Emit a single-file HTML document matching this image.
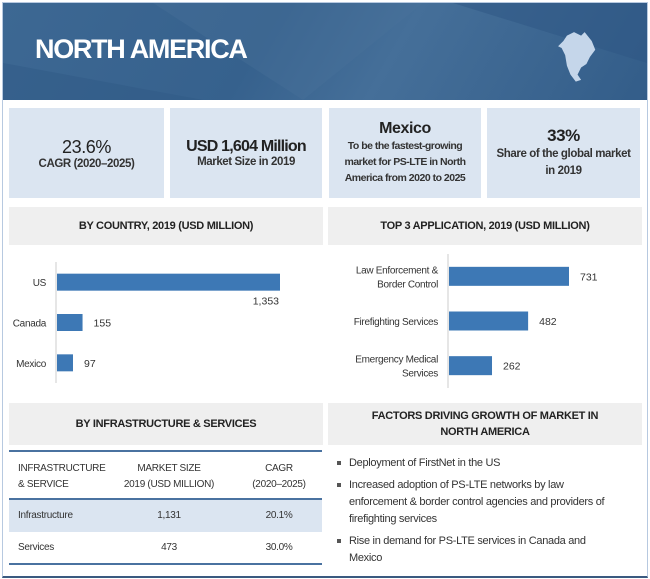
<!DOCTYPE html>
<html><head><meta charset="utf-8"><style>
*{margin:0;padding:0;box-sizing:border-box}
body{width:650px;height:579px;background:#fff;position:relative;overflow:hidden;font-family:"Liberation Sans Narrow","Liberation Sans",sans-serif;color:#333}
.abs{position:absolute}
.stat{background:#dbe5f1;text-align:center;display:flex;flex-direction:column;justify-content:center;top:108px;height:90px;letter-spacing:-0.4px}
.hd{background:#efefef;color:#222;font-weight:bold;font-size:11px;text-align:center;display:flex;align-items:center;justify-content:center;letter-spacing:-0.3px}
ul{list-style:none}
li{position:relative;padding-left:14px;font-size:11px;line-height:17px;margin-bottom:5px;color:#333;letter-spacing:-0.3px}
li:before{content:"";position:absolute;left:2px;top:6px;width:4px;height:4px;background:#555}
</style></head><body>
<div class="abs" style="left:2px;top:2px;width:646px;height:576px;border:1px solid #b7c9e0;border-bottom:2px solid #3a5a80"></div>
<div class="abs" style="left:3px;top:3px;width:644px;height:97px;background:linear-gradient(120deg,#3d6893 0%,#36618d 40%,#456f99 60%,#335d89 100%);overflow:hidden">
<svg width="644" height="97" class="abs" style="left:0;top:0"><polygon points="150,0 420,0 300,97" fill="#4a739c" opacity=".35"/><polygon points="450,0 644,60 644,0" fill="#2d5683" opacity=".5"/><polygon points="0,60 200,97 0,97" fill="#2f5a86" opacity=".5"/></svg>
<div class="abs" style="left:32px;top:31px;color:#fff;font-weight:bold;font-size:27px;letter-spacing:-1.3px">NORTH AMERICA</div>
<svg class="abs" style="left:555px;top:22px" width="40" height="62" viewBox="0 0 45 70"><path d="M10 12 L18 8 L26 12 L30 8 L38 18 L42 28 L36 36 L32 44 L26 48 L22 56 L26 62 L20 64 L14 56 L10 46 L8 34 L4 26 L0 24 L6 18 Z" fill="#c5d6ea"/></svg>
</div>
<div class="abs stat" style="left:9px;width:155px"><div style="font-size:18px;color:#222">23.6%</div><div style="font-size:11.5px;font-weight:bold;color:#333">CAGR (2020–2025)</div></div>
<div class="abs stat" style="left:170px;width:152px"><div style="font-size:16px;font-weight:bold;color:#222;letter-spacing:-0.8px">USD 1,604 Million</div><div style="font-size:11.5px;font-weight:bold;color:#333">Market Size in 2019</div></div>
<div class="abs stat" style="left:329px;width:152px"><div style="font-size:16px;font-weight:bold;color:#222">Mexico</div><div style="font-size:10.5px;font-weight:bold;color:#333;line-height:16px;letter-spacing:-0.5px">To be the fastest-growing<br>market for PS-LTE in North<br>America from 2020 to 2025</div></div>
<div class="abs stat" style="left:487px;width:153px"><div style="font-size:17px;font-weight:bold;color:#222">33%</div><div style="font-size:11.5px;font-weight:bold;color:#333;line-height:17px">Share of the global market<br>in 2019</div></div>

<div class="abs hd" style="left:9px;top:207px;width:314px;height:38px">BY COUNTRY,  2019 (USD MILLION)</div>
<div class="abs hd" style="left:328px;top:207px;width:314px;height:38px">TOP 3 APPLICATION,  2019 (USD MILLION)</div>
<svg class="abs" id="charts" style="left:0;top:0" width="650" height="579"></svg>

<div class="abs hd" style="left:9px;top:403px;width:314px;height:42px">BY INFRASTRUCTURE &amp; SERVICES</div>
<div class="abs hd" style="left:328px;top:403px;width:314px;height:42px;line-height:16px">FACTORS DRIVING GROWTH OF MARKET IN<br>NORTH AMERICA</div>

<div class="abs" style="left:9px;top:450px;width:313px;height:115px;border-top:2px solid #4a72a0;border-bottom:2px solid #4a72a0;font-size:10px;letter-spacing:-0.3px">
<div style="height:48px;border-bottom:2px solid #4a72a0;position:relative">
<div class="abs" style="left:9px;top:9px;line-height:16px">INFRASTRUCTURE<br>&amp; SERVICE</div>
<div class="abs" style="left:100px;width:120px;top:9px;text-align:center;line-height:16px">MARKET SIZE<br>2019 (USD MILLION)</div>
<div class="abs" style="left:230px;width:80px;top:9px;text-align:center;line-height:16px">CAGR<br>(2020–2025)</div></div>
<div style="height:32px;background:#dbe5f1;position:relative;line-height:32px">
<span class="abs" style="left:9px">Infrastructure</span><span class="abs" style="left:100px;width:120px;text-align:center">1,131</span><span class="abs" style="left:230px;width:80px;text-align:center">20.1%</span></div>
<div style="height:31px;position:relative;line-height:31px">
<span class="abs" style="left:9px">Services</span><span class="abs" style="left:100px;width:120px;text-align:center">473</span><span class="abs" style="left:230px;width:80px;text-align:center">30.0%</span></div>
</div>

<ul class="abs" style="left:335px;top:455px;width:272px">
<li>Deployment of FirstNet in the US</li>
<li>Increased adoption of PS-LTE networks by law enforcement &amp; border control agencies and providers of firefighting services</li>
<li>Rise in demand for PS-LTE services in Canada and Mexico</li>
</ul>

<script>
const countries=["US","Canada","Mexico"];
const countryValues=[1353,155,97];
const apps=[["Law Enforcement &","Border Control"],["Firefighting Services"],["Emergency Medical","Services"]];
const appValues=[731,482,262];
const NS="http://www.w3.org/2000/svg";
const svg=document.getElementById("charts");
const FF="Liberation Sans Narrow, Liberation Sans, sans-serif";
function mk(t,a){const e=document.createElementNS(NS,t);for(const k in a)e.setAttribute(k,a[k]);svg.appendChild(e);return e;}
function bars(cats,vals,x0,yTop,yBot,scale,bh,name,labelInside){
  const axis=mk("line",{x1:x0,y1:yTop,x2:x0,y2:yBot,stroke:"#ccc"});
  
  
  const band=(yBot-yTop)/cats.length;
  cats.forEach((c,i)=>{
    const cy=yTop+band*(i+0.5);
    const w=vals[i]*scale;
    const r=mk("rect",{x:x0+1,y:cy-bh/2,width:w,height:bh,fill:"#3d78b5"});
    
    
    const lines=Array.isArray(c)?c:[c];
    lines.forEach((ln,j)=>{
      const t=mk("text",{x:x0-10,y:cy+4+(j-(lines.length-1)/2)*14,"text-anchor":"end","font-size":"10","fill":"#333","font-family":FF,"letter-spacing":"-0.3"});
      t.textContent=ln;
      
      
    });
    const long=labelInside&&w>150;
    const v=mk("text",{x:long?x0+w:x0+w+12,y:long?cy+bh/2+14:cy+4,"text-anchor":long?"end":"start","font-size":"10.5","fill":"#333","font-family":FF});
    v.textContent=vals[i].toLocaleString("en-US");
    
    
  });
}
bars(countries,countryValues,56,262,383,223/1353,17,"country",true);
bars(apps,appValues,448,254,388,120/731,19,"application",false);
</script>
</body></html>
